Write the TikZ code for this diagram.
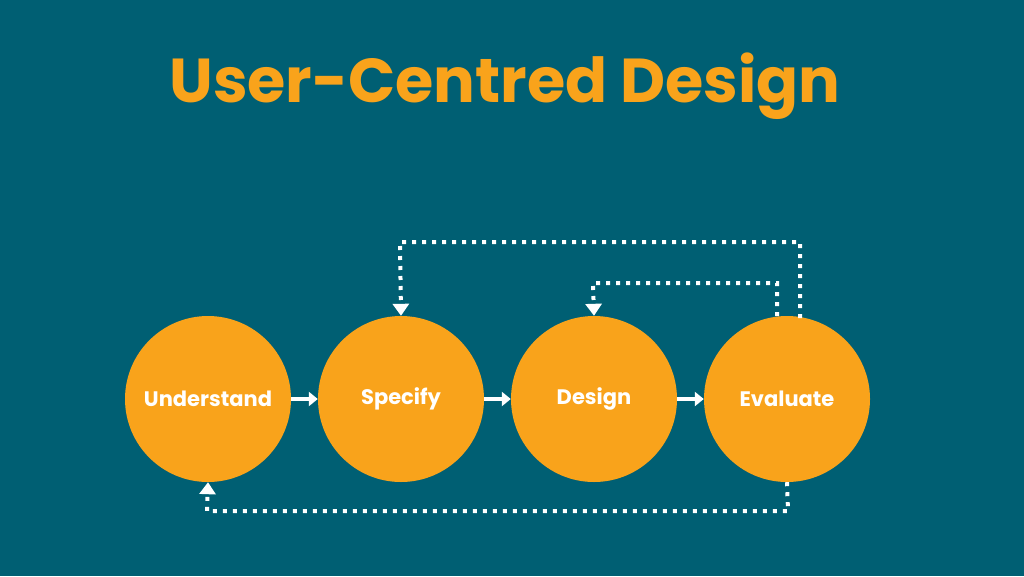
\documentclass[tikz,border=0pt]{standalone}
\usepackage{fontspec}
\setmainfont{Poppins}
\usetikzlibrary{arrows.meta}
\definecolor{bg}{HTML}{005F73}
\definecolor{org}{HTML}{F9A31B}
\begin{document}
\begin{tikzpicture}[x=1pt,y=-1pt,
  stage/.style={circle,fill=org,minimum size=166pt,inner sep=0pt,text=white,font=\bfseries\fontsize{21}{24}\selectfont},
  flow/.style={white,line width=4pt,-{Triangle[length=9pt,width=14pt]}},
  loop/.style={white,line width=4pt,dash pattern=on 4pt off 6pt,-{Triangle[length=12pt,width=16pt]}}]
\fill[bg] (0,0) rectangle (1024,576);
\useasboundingbox (0,0) rectangle (1024,576);
\node[text=org,font=\bfseries\fontsize{62}{70}\selectfont] (title) at (505,86) {User-Centred Design};
\node[stage] (u) at (208,399) {Understand};
\node[stage] (s) at (401,399) {Specify};
\node[stage] (d) at (594,399) {Design};
\node[stage] (e) at (787,399) {Evaluate};
\draw[flow] (u.east) -- (s.west);
\draw[flow] (s.east) -- (d.west);
\draw[flow] (d.east) -- (e.west);
\coordinate (e1) at (800,318);
\coordinate (e2) at (777,316);
\draw[loop] (e1) -- (800,242) -- (400,242) -- (s.north);
\draw[loop] (e2) -- (777,283) -- (593,283) -- (d.north);
\draw[loop] (e.south) -- (788,511) -- (207,511) -- (u.south);
\end{tikzpicture}
\end{document}
